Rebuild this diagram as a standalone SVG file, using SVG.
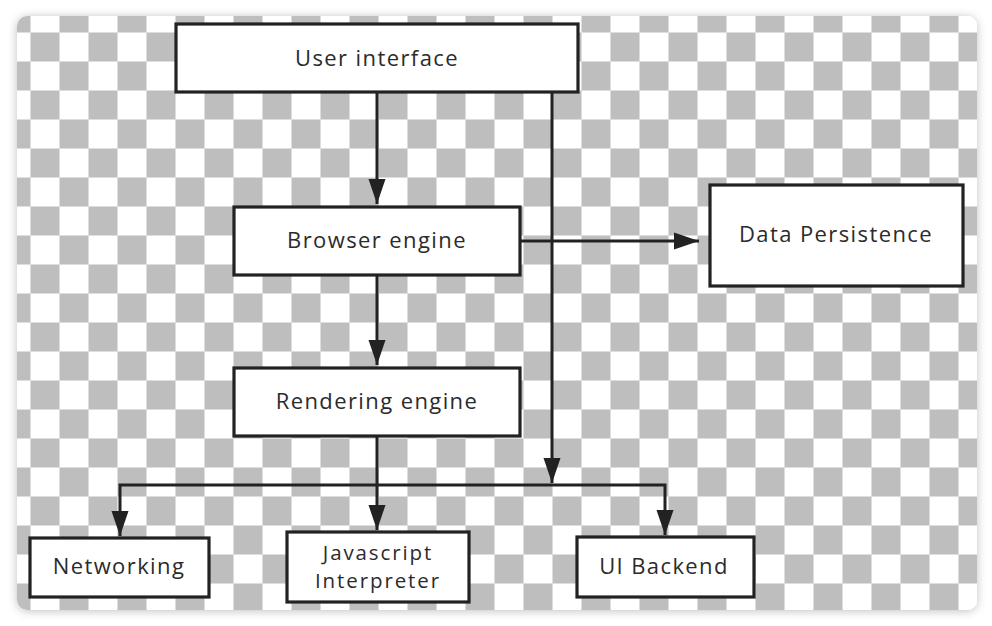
<svg xmlns="http://www.w3.org/2000/svg" width="992" height="626" viewBox="0 0 992 626">
<style>
.box{fill:#fff;stroke:#222;stroke-width:3.2}
.lbl{font-family:"Open Sans","Noto Sans","DejaVu Sans",sans-serif;font-size:22px;letter-spacing:1.4px;fill:#2b2b2b;text-anchor:middle}
.two{font-size:20.5px;letter-spacing:1.9px}
.con{fill:none;stroke:#222;stroke-width:3}
</style>
<defs>
<pattern id="chk" x="1" y="3" width="58" height="58" patternUnits="userSpaceOnUse">
<rect width="58" height="58" fill="#fff"/>
<rect width="29" height="29" fill="#bebebe"/>
<rect x="29" y="29" width="29" height="29" fill="#bebebe"/>
<path d="M0.5 0V58M29.5 0V58M0 0.5H58M0 29.5H58" stroke="#dedede" stroke-width="1"/>
</pattern>
<filter id="sh" x="-5%" y="-5%" width="110%" height="110%">
<feDropShadow dx="0" dy="1" stdDeviation="5" flood-color="#000" flood-opacity="0.25"/>
</filter>
<marker id="ar" markerUnits="userSpaceOnUse" markerWidth="26" markerHeight="18" refX="25" refY="9" orient="auto">
<path d="M0 0.5L25 9L0 17.5z" fill="#222"/>
</marker>
</defs>
<rect width="992" height="626" fill="#fff"/>
<rect x="17" y="16" width="960" height="594" rx="10" fill="#fff" filter="url(#sh)"/>
<rect x="17" y="16" width="960" height="594" rx="10" fill="url(#chk)"/>
<g id="connectors">
<path class="con" d="M377 92V204" marker-end="url(#ar)"/>
<path class="con" d="M552 92V483" marker-end="url(#ar)"/>
<path class="con" d="M520 241H699" marker-end="url(#ar)"/>
<path class="con" d="M377 275V365" marker-end="url(#ar)"/>
<path class="con" d="M377 436V530" marker-end="url(#ar)"/>
<path class="con" d="M552 485H120V536" marker-end="url(#ar)"/>
<path class="con" d="M552 485H665V535" marker-end="url(#ar)"/>
</g>
<g id="user-interface">
<rect class="box" x="176" y="24" width="402" height="68"/>
<text class="lbl" x="377" y="66">User interface</text>
</g>
<g id="browser-engine">
<rect class="box" x="234" y="207" width="286" height="68"/>
<text class="lbl" x="377" y="248">Browser engine</text>
</g>
<g id="data-persistence">
<rect class="box" x="710" y="185" width="253" height="101"/>
<text class="lbl" x="836" y="242">Data Persistence</text>
</g>
<g id="rendering-engine">
<rect class="box" x="234" y="368" width="286" height="68"/>
<text class="lbl" x="377" y="409">Rendering engine</text>
</g>
<g id="networking">
<rect class="box" x="30" y="538" width="179" height="59"/>
<text class="lbl" x="119" y="574">Networking</text>
</g>
<g id="javascript-interpreter">
<rect class="box" x="287" y="532" width="182" height="70"/>
<text class="lbl two" x="378" y="560">Javascript</text>
<text class="lbl two" x="378" y="588">Interpreter</text>
</g>
<g id="ui-backend">
<rect class="box" x="577" y="537" width="177" height="60"/>
<text class="lbl" x="664" y="574">UI Backend</text>
</g>
</svg>
